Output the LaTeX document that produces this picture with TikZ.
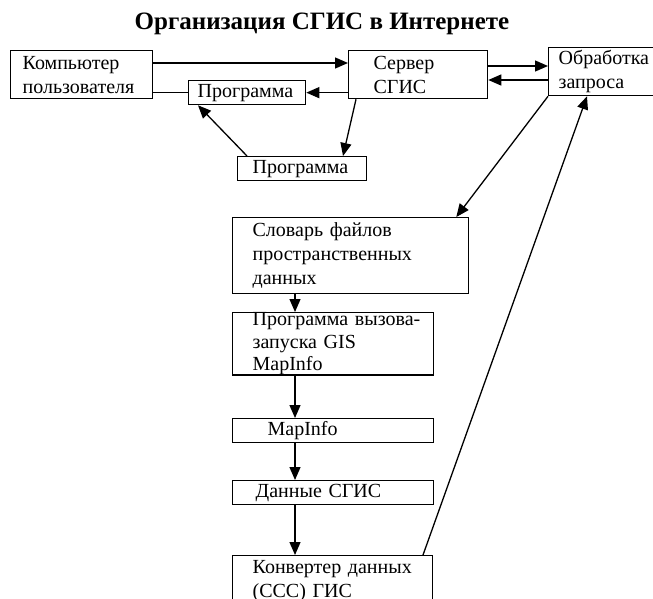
\documentclass[tikz,border=0pt]{standalone}
\usepackage{fontspec}
\setmainfont{Liberation Serif}
\usetikzlibrary{arrows.meta}
\begin{document}
\begin{tikzpicture}[x=1pt,y=-1pt,line width=1.3pt,
  every node/.style={font=\fontsize{20}{24}\selectfont},
  blok/.style={draw,rectangle,anchor=north west,align=left,inner ysep=0pt},
  pil/.style={-{Triangle[length=13pt,width=11pt]}}]
\clip (0,0) rectangle (653,599);
\node (titel) at (322,24) {\fontsize{25}{28}\selectfont\bfseries Организация СГИС в Интернете};
% boxes
\node[blok,inner xsep=12pt,text width=118pt,minimum height=48pt] (komp) at (10,50) {Компьютер\\пользователя};
\node[blok,inner xsep=25pt,text width=89pt,minimum height=48pt] (serv) at (348,50) {Сервер\\СГИС};
\node[blok,inner xsep=10pt,text width=100pt,minimum height=48pt] (obr) at (548,47) {Обработка\\запроса};
\node[blok,inner xsep=9pt,text width=99pt,minimum height=24pt] (prog1) at (188,80) {Программа};
\node[blok,inner xsep=15pt,text width=99pt,minimum height=24pt] (prog2) at (237,156) {Программа};
\node[blok,inner xsep=20pt,text width=196pt,minimum height=76pt] (slov) at (232,217) {Словарь файлов\\пространственных\\данных};
\node[blok,inner xsep=20pt,text width=161pt,minimum height=62pt,font=\fontsize{20}{22.5}\selectfont] (vyz) at (232,312) {\mbox{Программа вызова-}\\запуска GIS\\MapInfo};
\node[blok,inner xsep=35pt,text width=131pt,minimum height=24pt] (mapi) at (232,418) {MapInfo};
\node[blok,inner xsep=23pt,text width=155pt,minimum height=24pt] (dann) at (232,480) {Данные СГИС};
\node[blok,inner xsep=20pt,text width=160pt,minimum height=50pt] (konv) at (232,555) {Конвертер данных\\(ССС) ГИС};
% connectors
\draw[pil] ([yshift=-13pt]komp.north east) -- ([yshift=-13pt]komp.north east -| serv.west);
\draw (komp.east |- prog1.west) -- (prog1.west);
\draw[pil] (serv.west |- prog1.east) -- (prog1.east);
\draw[pil] ([yshift=-16pt]serv.north east) -- ([yshift=-16pt]serv.north east -| obr.west);
\draw[pil] ([yshift=-33pt]obr.north west) -- ([yshift=-33pt]obr.north west -| serv.east);
\draw[pil] ([xshift=8pt]serv.south west) -- ([xshift=106pt]prog2.north west);
\draw[pil] ([xshift=10pt]prog2.north west) -- ([xshift=10pt]prog1.south west);
\draw[pil] (obr.south west) -- ([xshift=-13pt]slov.north east);
\draw[pil] ([xshift=63pt]slov.south west) -- ([xshift=63pt]vyz.north west);
\draw[pil] ([xshift=63pt]vyz.south west) -- ([xshift=63pt]mapi.north west);
\draw[pil] ([xshift=63pt]mapi.south west) -- ([xshift=63pt]dann.north west);
\draw[pil] ([xshift=63pt]dann.south west) -- ([xshift=63pt]konv.north west);
\draw[pil] ([xshift=191pt]konv.north west) -- ([xshift=39pt]obr.south west);
\end{tikzpicture}
\end{document}
